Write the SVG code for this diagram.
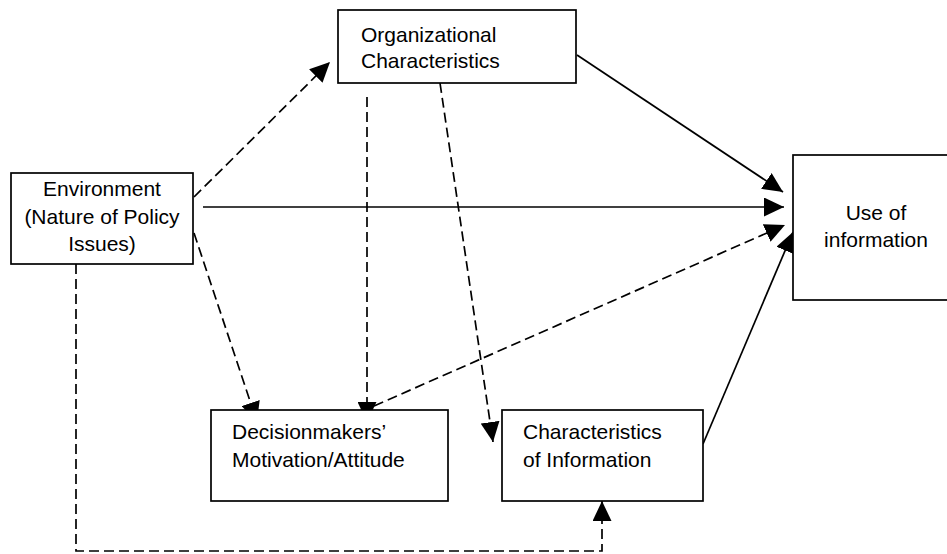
<svg xmlns="http://www.w3.org/2000/svg" width="947" height="554" viewBox="0 0 947 554">
<style>
.box{fill:#fff;stroke:#000;stroke-width:1.7}
.t{font-family:"Liberation Sans",Arial,sans-serif;font-size:21px;fill:#000}
.c{stroke:#000;stroke-width:1.7;fill:none}
.d{stroke-dasharray:10 5}
</style>
<defs>
<marker id="ah" markerUnits="userSpaceOnUse" markerWidth="21" markerHeight="19" refX="20" refY="9.5" orient="auto">
<path d="M0,0 L20,9.5 L0,19 z" fill="#000"/>
</marker>
</defs>
<rect width="947" height="554" fill="#fff"/>
<g id="connectors">
<line class="c d" x1="194" y1="197" x2="330" y2="62" marker-end="url(#ah)"/>
<line class="c" x1="203" y1="207" x2="784" y2="207" marker-end="url(#ah)"/>
<line class="c" x1="577" y1="55" x2="783" y2="192" marker-end="url(#ah)"/>
<line class="c d" x1="374" y1="406" x2="785" y2="225" marker-end="url(#ah)"/>
<line class="c" x1="703" y1="444" x2="793" y2="232" marker-end="url(#ah)"/>
<line class="c d" x1="367" y1="97" x2="367" y2="422" marker-end="url(#ah)"/>
<line class="c d" x1="440" y1="83" x2="493" y2="442" marker-end="url(#ah)"/>
<line class="c d" x1="194" y1="233" x2="257" y2="422" marker-end="url(#ah)"/>
<polyline class="c d" points="76,264 76,551 602,551 602,501" marker-end="url(#ah)"/>
</g>
<g id="org">
<rect class="box" x="338" y="10" width="238" height="73"/>
<text class="t" x="361" y="42">Organizational</text>
<text class="t" x="361" y="68">Characteristics</text>
</g>
<g id="env">
<rect class="box" x="11" y="173" width="182" height="91"/>
<text class="t" x="102" y="196" text-anchor="middle">Environment</text>
<text class="t" x="102" y="223.5" text-anchor="middle">(Nature of Policy</text>
<text class="t" x="102" y="251" text-anchor="middle">Issues)</text>
</g>
<g id="use">
<rect class="box" x="793" y="155" width="160" height="145"/>
<text class="t" x="876" y="220" text-anchor="middle">Use of</text>
<text class="t" x="876" y="247" text-anchor="middle">information</text>
</g>
<g id="decision">
<rect class="box" x="211" y="410" width="237" height="91"/>
<text class="t" x="232" y="439">Decisionmakers’</text>
<text class="t" x="232" y="467">Motivation/Attitude</text>
</g>
<g id="charinfo">
<rect class="box" x="502" y="410" width="201" height="91"/>
<text class="t" x="523" y="439">Characteristics</text>
<text class="t" x="523" y="467">of Information</text>
</g>
</svg>
